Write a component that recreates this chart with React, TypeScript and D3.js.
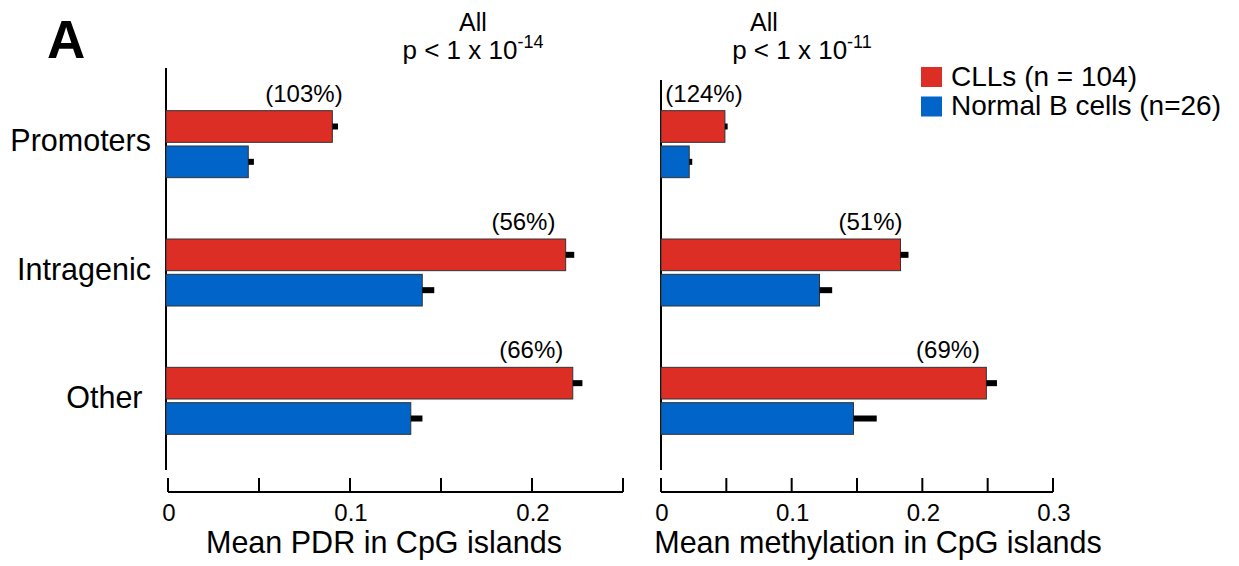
import React from "react";
import * as d3 from "d3";

const categories = ["Promoters", "Intragenic", "Other"];
const seriesNames = ["CLLs (n = 104)", "Normal B cells (n=26)"];
const seriesColors = ["#dc2e25", "#0064c8"];

// Left panel: Mean PDR
const pdrCLL = [0.0903, 0.2185, 0.2224];
const pdrCLLErr = [0.0031, 0.0047, 0.0053];
const pdrNormal = [0.0441, 0.1397, 0.1334];
const pdrNormalErr = [0.0031, 0.0066, 0.0064];
const pdrPct = ["(103%)", "(56%)", "(66%)"];
const pdrPctAt = [0.0747, 0.1953, 0.1996];
const pdrTicks = [0, 0.05, 0.1, 0.15, 0.2, 0.25];
const pdrTickLabels = ["0", "", "0.1", "", "0.2", ""];

// Right panel: Mean methylation
const methCLL = [0.0489, 0.1833, 0.249];
const methCLLErr = [0.0021, 0.0061, 0.0081];
const methNormal = [0.0216, 0.1213, 0.1473];
const methNormalErr = [0.0023, 0.0097, 0.0178];
const methPct = ["(124%)", "(51%)", "(69%)"];
const methPctAt = [0.0329, 0.1603, 0.2197];
const methTicks = [0, 0.05, 0.1, 0.15, 0.2, 0.25, 0.3];
const methTickLabels = ["0", "", "0.1", "", "0.2", "", "0.3"];

const FONT = "'Liberation Sans', Arial, Helvetica, sans-serif";

type PanelProps = {
  axisX: number;
  axisTop: number;
  x0: number;
  x1: number;
  domainMax: number;
  cll: number[];
  cllErr: number[];
  normal: number[];
  normalErr: number[];
  pct: string[];
  pctAt: number[];
  ticks: number[];
  tickLabels: string[];
  title: string;
  titleX: number;
  showCats: boolean;
};

function Panel(p: PanelProps) {
  const x = d3.scaleLinear().domain([0, p.domainMax]).range([p.x0, p.x1]);
  const y0 = d3.scaleBand<string>().domain(categories).range([80, 465]);
  const y1 = d3.scaleBand<string>().domain(seriesNames).range([0, 67]).paddingInner(0.104);
  const axisY = 492;
  const values = [p.cll, p.normal];
  const errs = [p.cllErr, p.normalErr];
  return (
    <g>
      <line x1={p.axisX} x2={p.axisX} y1={p.axisTop} y2={470} stroke="#000" strokeWidth={2} />
      {categories.map((c, i) => {
        const gTop = (y0(c) as number) + y0.bandwidth() / 2 - 33.5;
        return (
          <g key={c}>
            {seriesNames.map((s, k) => {
              const yy = gTop + (y1(s) as number);
              const h = y1.bandwidth();
              const v = values[k][i];
              const e = errs[k][i];
              return (
                <g key={s}>
                  <rect x={p.axisX} y={yy} width={x(v) - p.axisX} height={h} fill={seriesColors[k]} stroke="#333" strokeWidth={1} />
                  <rect x={x(v)} y={yy + h / 2 - 3} width={x(v + e) - x(v)} height={6} fill="#000" />
                </g>
              );
            })}
            <text x={x(p.pctAt[i])} y={gTop - 9} textAnchor="middle" fontSize={24} fontFamily={FONT}>
              {p.pct[i]}
            </text>
            {p.showCats && (
              <text x={151} y={gTop + 33.5 + 7} textAnchor="end" fontSize={30.5} fontFamily={FONT} style={{ whiteSpace: "pre" }}>
                {c === "Other" ? "Other " : c}
              </text>
            )}
          </g>
        );
      })}
      <line x1={x(0)} x2={x(p.domainMax)} y1={axisY} y2={axisY} stroke="#000" strokeWidth={2} />
      {p.ticks.map((t, i) => (
        <g key={t}>
          <line x1={x(t)} x2={x(t)} y1={axisY} y2={axisY - 14} stroke="#000" strokeWidth={2} />
          {p.tickLabels[i] && (
            <text x={x(t) + 1} y={521} textAnchor="middle" fontSize={24} fontFamily={FONT}>
              {p.tickLabels[i]}
            </text>
          )}
        </g>
      ))}
      <text x={p.titleX} y={553} textAnchor="middle" fontSize={30.5} fontFamily={FONT}>
        {p.title}
      </text>
    </g>
  );
}

export default function App() {
  return (
    <svg
      width={1239}
      height={566}
      style={{ position: "absolute", left: 0, top: 0, background: "#fff" }}
    >
      <rect width={1239} height={566} fill="#fff" />
      <text x={47} y={58} fontSize={53} fontWeight="bold" fontFamily={FONT}>A</text>

      <text x={473} y={31} textAnchor="middle" fontSize={25} fontFamily={FONT}>All</text>
      <text x={473} y={59} textAnchor="middle" fontSize={26} fontFamily={FONT}>
        p &lt; 1 x 10<tspan fontSize={18} dy={-11}>-14</tspan>
      </text>
      <text x={764} y={31} textAnchor="middle" fontSize={25} fontFamily={FONT}>All</text>
      <text x={802} y={59} textAnchor="middle" fontSize={26} fontFamily={FONT}>
        p &lt; 1 x 10<tspan fontSize={18} dy={-11}>-11</tspan>
      </text>

      <Panel
        axisX={166}
        axisTop={68}
        x0={168}
        x1={623}
        domainMax={0.25}
        cll={pdrCLL}
        cllErr={pdrCLLErr}
        normal={pdrNormal}
        normalErr={pdrNormalErr}
        pct={pdrPct}
        pctAt={pdrPctAt}
        ticks={pdrTicks}
        tickLabels={pdrTickLabels}
        title="Mean PDR in CpG islands"
        titleX={384}
        showCats={true}
      />
      <Panel
        axisX={661}
        axisTop={80}
        x0={661}
        x1={1053}
        domainMax={0.3}
        cll={methCLL}
        cllErr={methCLLErr}
        normal={methNormal}
        normalErr={methNormalErr}
        pct={methPct}
        pctAt={methPctAt}
        ticks={methTicks}
        tickLabels={methTickLabels}
        title="Mean methylation in CpG islands"
        titleX={878}
        showCats={false}
      />

      {seriesNames.map((s, k) => (
        <g key={s}>
          <rect x={921} y={67 + k * 29.5} width={21} height={20} fill={seriesColors[k]} />
          <text x={951} y={86 + k * 28.5} fontSize={28} fontFamily={FONT}>{s}</text>
        </g>
      ))}
    </svg>
  );
}
